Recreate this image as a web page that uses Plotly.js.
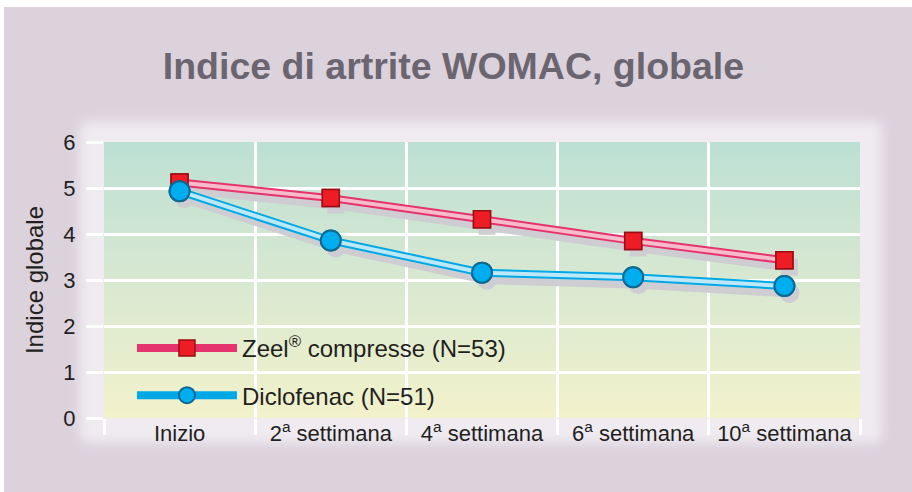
<!DOCTYPE html>
<html>
<head>
<meta charset="utf-8">
<script src="https://cdn.plot.ly/plotly-3.0.1.min.js"></script>
<style>
html,body{margin:0;padding:0;background:#ffffff;}
#chart{position:absolute;left:4px;top:7px;width:908px;height:485px;}
</style>
</head>
<body>
<div id="chart"></div>
<script>
// ---- data ----
var categories = ['Inizio', '2<sup>a</sup> settimana', '4<sup>a</sup> settimana', '6<sup>a</sup> settimana', '10<sup>a</sup> settimana'];
var zeelValues = [5.12, 4.78, 4.32, 3.85, 3.43];
var diclofenacValues = [4.93, 3.86, 3.16, 3.06, 2.87];
var seriesNames = ['Zeel<sup>®</sup> compresse (N=53)', 'Diclofenac (N=51)'];
var chartTitle = 'Indice di artrite WOMAC, globale';
var yTitle = 'Indice globale';

// ---- style ----
var W = 908, H = 485;
var M = {l: 100, r: 52, t: 135, b: 74};
var PW = W - M.l - M.r, PH = H - M.t - M.b;
var shadowDx = 5, shadowDy = 7;
var yRange = [0, 6];
var xRange = [-0.5, categories.length - 0.5];
var dxUnits = shadowDx * (xRange[1] - xRange[0]) / PW;
var dyUnits = shadowDy * (yRange[1] - yRange[0]) / PH;

var shadowCol = '#cecdd2';
var textCol = '#231f20';

// background svg (glow + gradient plot area) in figure pixel coordinates
var svg = '<svg xmlns="http://www.w3.org/2000/svg" width="' + W + '" height="' + H + '" viewBox="0 0 ' + W + ' ' + H + '" preserveAspectRatio="none">' +
  '<defs><filter id="b" x="-10%" y="-10%" width="120%" height="120%"><feGaussianBlur stdDeviation="6"/></filter>' +
  '<linearGradient id="g" x1="0" y1="0" x2="0" y2="1">' +
  '<stop offset="0" stop-color="#bce0d4"/><stop offset="0.5" stop-color="#d8e8d1"/><stop offset="1" stop-color="#f2f2cb"/></linearGradient></defs>' +
  '<rect x="76" y="114" width="802" height="322" rx="8" fill="#f0ebf1" filter="url(#b)"/>' +
  '<rect x="' + M.l + '" y="' + M.t + '" width="' + PW + '" height="' + PH + '" fill="url(#g)"/>' +
  '</svg>';
var svgUri = 'data:image/svg+xml;charset=utf-8,' + encodeURIComponent(svg);

function shadowTrace(vals, symbol, size) {
  return {
    x: categories, y: vals, xaxis: 'x', yaxis: 'y',
    type: 'scatter', mode: 'lines+markers',
    line: {color: shadowCol, width: 9},
    marker: {symbol: symbol, size: size, color: shadowCol, line: {width: 0}},
    showlegend: false, hoverinfo: 'skip'
  };
}

var traces = [
  shadowTrace(diclofenacValues, 'circle', 20),
  shadowTrace(zeelValues, 'square', 17),
  // Zeel
  {x: categories, y: zeelValues, xaxis: 'x2', yaxis: 'y2', type: 'scatter', mode: 'lines+markers',
   name: seriesNames[0], legendgroup: 'a',
   line: {color: '#e5336d', width: 8},
   marker: {symbol: 'square', size: 17, color: '#ee1c25', line: {color: '#9b0d14', width: 1.5}}},
  {x: categories, y: zeelValues, xaxis: 'x2', yaxis: 'y2', type: 'scatter', mode: 'lines',
   line: {color: '#f7bccb', width: 4}, showlegend: false, hoverinfo: 'skip'},
  {x: categories, y: zeelValues, xaxis: 'x2', yaxis: 'y2', type: 'scatter', mode: 'markers',
   marker: {symbol: 'square', size: 17, color: '#ee1c25', line: {color: '#9b0d14', width: 1.5}},
   showlegend: false, hoverinfo: 'skip'},
  // Diclofenac
  {x: categories, y: diclofenacValues, xaxis: 'x2', yaxis: 'y2', type: 'scatter', mode: 'lines+markers',
   name: seriesNames[1], legendgroup: 'b',
   line: {color: '#00a9e6', width: 8},
   marker: {symbol: 'circle', size: 20, color: '#00adee', line: {color: '#0b6a92', width: 2}}},
  {x: categories, y: diclofenacValues, xaxis: 'x2', yaxis: 'y2', type: 'scatter', mode: 'lines',
   line: {color: '#bde8f7', width: 4}, showlegend: false, hoverinfo: 'skip'},
  {x: categories, y: diclofenacValues, xaxis: 'x2', yaxis: 'y2', type: 'scatter', mode: 'markers',
   marker: {symbol: 'circle', size: 20, color: '#00adee', line: {color: '#0b6a92', width: 2}},
   showlegend: false, hoverinfo: 'skip'}
];

var layout = {
  width: W, height: H,
  margin: M,
  paper_bgcolor: '#dbd2dc',
  plot_bgcolor: 'rgba(0,0,0,0)',
  font: {family: 'Liberation Sans, Arial, sans-serif', color: textCol, size: 22},
  hovermode: false,
  title: {text: chartTitle, font: {size: 37.5, color: '#6b6570', family: 'Liberation Sans, Arial, sans-serif', weight: 'bold'},
          xref: 'container', x: 0.495, xanchor: 'center', yref: 'container', y: 1 - 59 / H, yanchor: 'middle'},
  images: [{source: svgUri, xref: 'paper', yref: 'paper', x: -M.l / PW, y: 1 + M.t / PH,
            sizex: W / PW, sizey: H / PH, sizing: 'stretch', xanchor: 'left', yanchor: 'top', layer: 'below'}],
  xaxis: {type: 'category', range: [xRange[0] - dxUnits, xRange[1] - dxUnits], visible: false, fixedrange: true},
  yaxis: {range: [yRange[0] + dyUnits, yRange[1] + dyUnits], visible: false, fixedrange: true},
  xaxis2: {type: 'category', overlaying: 'x', anchor: 'y2', range: xRange, tickson: 'boundaries',
           showgrid: true, gridcolor: '#ffffff', gridwidth: 3, zeroline: false, showline: false,
           ticks: 'outside', ticklen: 16, tickwidth: 3, tickcolor: '#ffffff',
           tickfont: {size: 22, color: textCol}, fixedrange: true},
  yaxis2: {overlaying: 'y', anchor: 'x2', side: 'left', range: yRange, dtick: 1, tick0: 0,
           showgrid: true, gridcolor: '#ffffff', gridwidth: 3, zeroline: false, showline: false,
           ticks: 'outside', ticklen: 17, tickwidth: 3, tickcolor: '#ffffff', ticklabelstandoff: 6,
           tickfont: {size: 22, color: textCol},
           title: {text: yTitle, font: {size: 24, color: textCol}, standoff: 12}, fixedrange: true},
  legend: {x: 0.037, xanchor: 'left', y: 0.167, yanchor: 'middle', bgcolor: 'rgba(0,0,0,0)',
           font: {size: 24, color: textCol}, itemwidth: 100, tracegroupgap: 13, traceorder: 'grouped'}
};

Plotly.newPlot('chart', traces, layout, {displayModeBar: false, staticPlot: true});
</script>
</body>
</html>
